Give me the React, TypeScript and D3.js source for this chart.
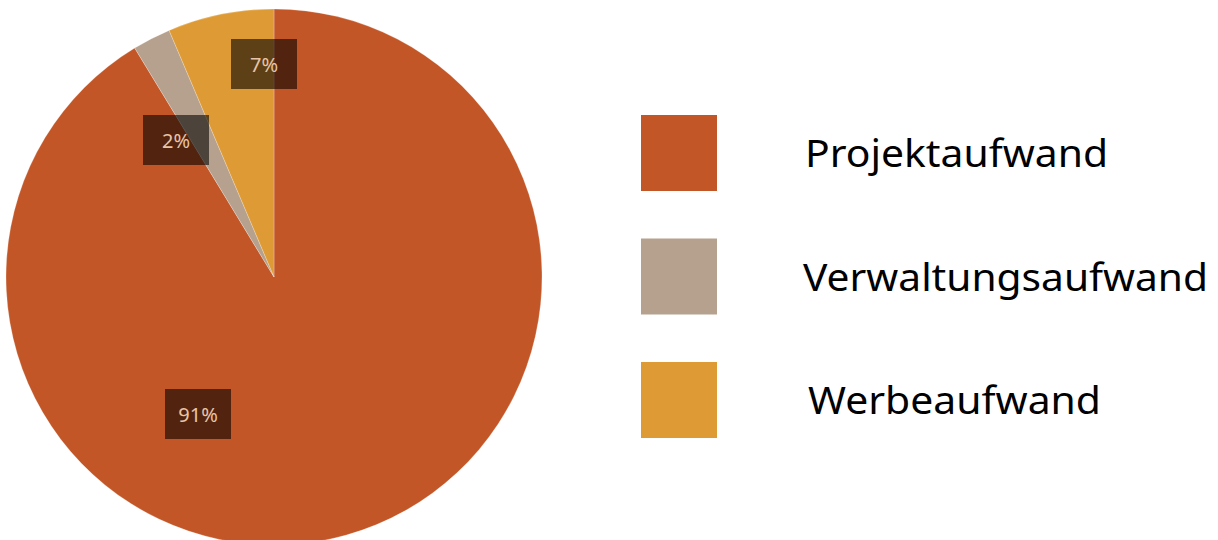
import React from "react";
import * as d3 from "d3";

const categories = ["Projektaufwand", "Verwaltungsaufwand", "Werbeaufwand"];
const values = [91.3, 2.3, 6.4];
const pctLabels = ["91%", "2%", "7%"];
const colors = ["#C35627", "#B5A18E", "#DE9A34"];

const W = 1218;
const H = 540;
const CX = 274;
const CY = 277;
const R = 268;
// label box centres, relative to the pie centre
const LABEL_OFFSETS: [number, number][] = [
  [-76, 137],
  [-98, -137],
  [-10, -213],
];
const LEGEND_X = 641;
const LEGEND_SW = 76;
const LEGEND_Y0 = 115;
const LEGEND_STEP = 123.5;
const LEGEND_TEXT_X = [805, 803, 808];
const LEGEND_TEXT_W = [303, 405, 293];

export default function App() {
  const pie = d3
    .pie<number>()
    .sort(null)
    .value((d) => d);
  const arcs = pie(values);
  const arc = d3.arc<d3.PieArcDatum<number>>().innerRadius(0).outerRadius(R);
  const font = "'Noto Sans', 'Open Sans', sans-serif";

  return (
    <svg
      width={W}
      height={H}
      style={{ position: "absolute", left: 0, top: 0, background: "#fff" }}
    >
      <g transform={`translate(${CX},${CY})`}>
        {arcs.map((a, i) => (
          <path
            key={i}
            d={arc(a) || ""}
            fill={colors[i]}
            stroke="#fff"
            strokeOpacity={0.3}
            strokeWidth={0.8}
          />
        ))}
        {arcs.map((a, i) => {
          const [ox, oy] = LABEL_OFFSETS[i];
          return (
            <g key={"l" + i} transform={`translate(${ox},${oy})`}>
              <rect x={-33} y={-25} width={66} height={50} fill="rgba(0,0,0,0.58)" />
              <text
                textAnchor="middle"
                y={7.5}
                fontFamily={font}
                fontSize={20}
                fill="#E8C4A8"
              >
                {pctLabels[i]}
              </text>
            </g>
          );
        })}
      </g>
      {categories.map((c, i) => {
        const y = LEGEND_Y0 + i * LEGEND_STEP;
        return (
          <g key={"lg" + i}>
            <rect x={LEGEND_X} y={y} width={LEGEND_SW} height={LEGEND_SW} fill={colors[i]} />
            <text
              x={LEGEND_TEXT_X[i]}
              y={y + LEGEND_SW / 2 + 14}
              fontFamily={font}
              fontSize={38}
              fill="#000"
              textLength={LEGEND_TEXT_W[i]}
              lengthAdjust="spacingAndGlyphs"
            >
              {c}
            </text>
          </g>
        );
      })}
    </svg>
  );
}
